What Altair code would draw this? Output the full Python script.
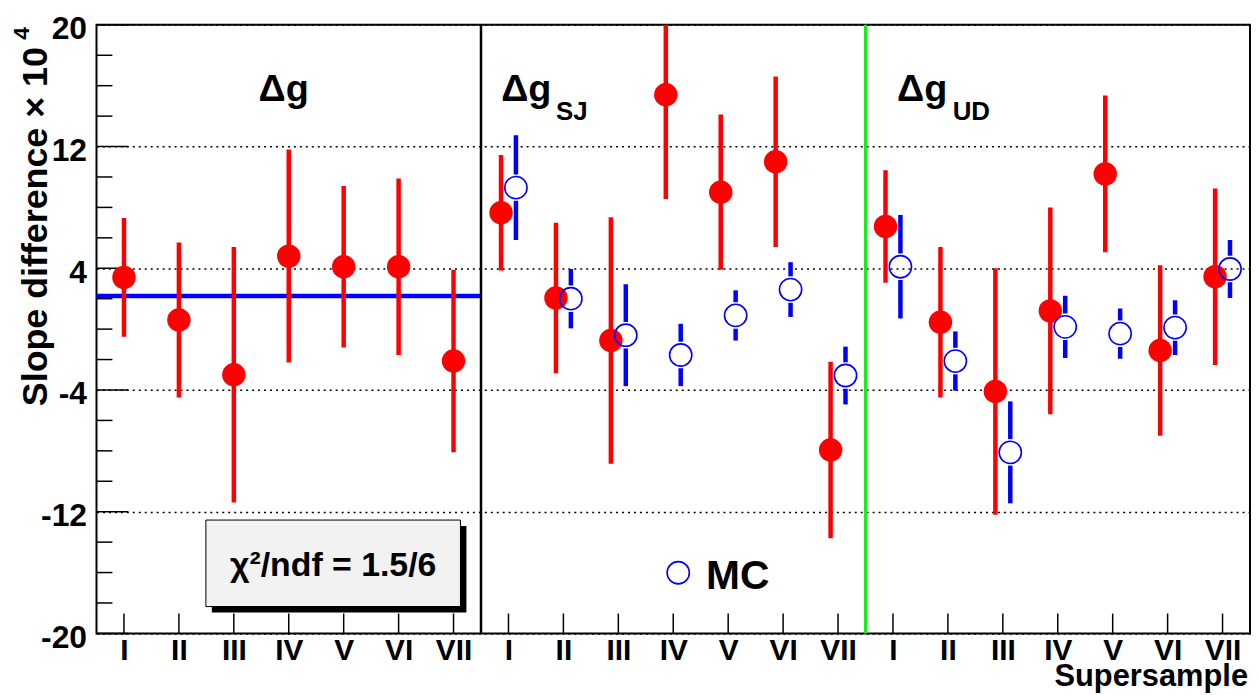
import altair as alt
import pandas as pd

# ---------------- data ----------------
roman = ["I", "II", "III", "IV", "V", "VI", "VII"]

# Delta g (data)
dg_val = [3.4, 0.6, -3.0, 4.8, 4.1, 4.1, -2.1]
dg_err = [3.9, 5.1, 8.4, 7.0, 5.3, 5.8, 6.0]

# Delta g_SJ (data and MC)
sj_val = [7.65, 2.05, -0.75, 15.4, 9.0, 11.0, -7.95]
sj_err = [3.8, 4.95, 8.1, 6.85, 5.1, 5.6, 5.8]
sj_mc_val = [9.3, 2.0, -0.4, -1.7, 0.9, 2.6, -3.05]
sj_mc_err = [3.45, 1.95, 3.35, 2.05, 1.65, 1.8, 1.9]

# Delta g_UD (data and MC)
ud_val = [6.75, 0.45, -4.1, 1.2, 10.2, -1.4, 3.45]
ud_err = [3.7, 4.95, 8.1, 6.8, 5.15, 5.6, 5.8]
ud_mc_val = [4.1, -2.1, -8.1, 0.15, -0.3, 0.1, 3.95]
ud_mc_err = [3.4, 1.95, 3.35, 2.05, 1.65, 1.8, 1.9]

fit_value = 2.17          # constant fit to Delta g
panel_edges = [7.5, 14.5]  # separators between the three panels

y_major = [-20, -12, -4, 4, 12, 20]
y_minor = [v for v in range(-18, 20, 2) if v not in y_major]

# ---------------- tables ----------------
rows = []
for p, (vals, errs) in enumerate([(dg_val, dg_err), (sj_val, sj_err), (ud_val, ud_err)]):
    for i in range(7):
        rows.append(dict(panel=p, pos=7 * p + i + 1, val=vals[i],
                         lo=vals[i] - errs[i], hi=vals[i] + errs[i]))
data = pd.DataFrame(rows)

mc_rows = []
for p, (vals, errs) in enumerate([(sj_mc_val, sj_mc_err), (ud_mc_val, ud_mc_err)], start=1):
    for i in range(7):
        mc_rows.append(dict(panel=p, pos=7 * p + i + 1, val=vals[i],
                            lo=vals[i] - errs[i], hi=vals[i] + errs[i]))
mc = pd.DataFrame(mc_rows)

positions = pd.DataFrame({"pos": list(range(1, 22))})
one = pd.DataFrame({"k": [0]})

# ---------------- style ----------------
FONT = "Liberation Sans"
W, H = 1160, 612
RED = "#ff0000"
BLUE = "#0000ff"
R = 13.3  # marker radius in px

xs = alt.Scale(domain=[0.5, 21.5], nice=False, zero=False)
ys = alt.Scale(domain=[-20, 20], nice=False, zero=False)

label_expr = "[" + ",".join(f"'{r}'" for r in roman) + "][(datum.value - 1) % 7]"

x_axis = alt.Axis(values=list(range(1, 22)), labelExpr=label_expr, ticks=False,
                  domain=False, grid=False, labelFont=FONT, labelFontWeight="bold",
                  labelFontSize=30, labelPadding=2, labelColor="black",
                  labelBaseline="top", title=None, labelFlush=False, labelOverlap=False)
y_axis = alt.Axis(values=y_major, labelExpr="'' + datum.value", ticks=False, domain=False,
                  grid=True, gridColor="black", gridDash=[2, 4], gridWidth=1.5,
                  gridOpacity=1, labelFont=FONT, labelFontWeight="bold",
                  labelFontSize=32, labelPadding=10, labelOffset=4, labelColor="black",
                  labelBaseline="middle", title=None, labelFlush=False, labelOverlap=False)


def X(field=None, datum=None):
    if datum is not None:
        return alt.X(datum=datum, type="quantitative", scale=xs, axis=x_axis)
    return alt.X(field, type="quantitative", scale=xs, axis=x_axis)


def Y(field=None, datum=None):
    if datum is not None:
        return alt.Y(datum=datum, type="quantitative", scale=ys, axis=y_axis)
    return alt.Y(field, type="quantitative", scale=ys, axis=y_axis)


# ---------------- layers ----------------
x_ticks = alt.Chart(positions).mark_rule(color="black", strokeWidth=1.5).encode(
    x=X("pos"), y=alt.value(H), y2=alt.value(H - 20))

y_major_ticks = alt.Chart(pd.DataFrame({"v": y_major})).mark_rule(color="black", strokeWidth=1.5).encode(
    y=Y("v"), x=alt.value(0), x2=alt.value(32))
y_minor_ticks = alt.Chart(pd.DataFrame({"v": y_minor})).mark_rule(color="black", strokeWidth=1.5).encode(
    y=Y("v"), x=alt.value(0), x2=alt.value(16))

sep_black = alt.Chart(one).mark_rule(color="black", strokeWidth=2.5).encode(
    x=X(datum=panel_edges[0]), y=alt.value(0), y2=alt.value(H))
sep_green = alt.Chart(one).mark_rule(color="#19ec19", strokeWidth=3).encode(
    x=X(datum=panel_edges[1]), y=alt.value(0), y2=alt.value(H))

fit_line = alt.Chart(one).mark_rule(color=BLUE, strokeWidth=4.5).encode(
    x=X(datum=0.5), x2=alt.X2(datum=7.5), y=Y(datum=fit_value))

red_p1 = alt.Chart(data).transform_filter("datum.panel == 0")
red_p23 = alt.Chart(data).transform_filter("datum.panel > 0")


def red_layers(base, dx):
    bars = base.mark_rule(color=RED, strokeWidth=4.5, clip=True, xOffset=dx).encode(
        x=X("pos"), y=Y("lo"), y2="hi:Q")
    pts = base.mark_point(shape="circle", filled=True, size=555, color=RED, opacity=1,
                          xOffset=dx).encode(x=X("pos"), y=Y("val"))
    return bars, pts


r1_bars, r1_pts = red_layers(red_p1, 0)
r2_bars, r2_pts = red_layers(red_p23, -7.5)

mc_base = alt.Chart(mc)
mc_up = mc_base.mark_rule(color=BLUE, strokeWidth=4.5, clip=True, xOffset=7.5, yOffset=-R).encode(
    x=X("pos"), y=Y("val"), y2="hi:Q")
mc_down = mc_base.mark_rule(color=BLUE, strokeWidth=4.5, clip=True, xOffset=7.5, yOffset=R).encode(
    x=X("pos"), y=Y("val"), y2="lo:Q")
mc_pts = mc_base.mark_point(shape="circle", filled=False, size=500, stroke=BLUE,
                            strokeWidth=1.6, opacity=1, xOffset=7.5).encode(
    x=X("pos"), y=Y("val"))


def text(txt, x, y, size, align="left", weight="bold", angle=0):
    return alt.Chart(pd.DataFrame({"t": [txt]})).mark_text(
        align=align, baseline="alphabetic", fontSize=size, fontWeight=weight,
        font=FONT, angle=angle, color="black").encode(
        x=alt.value(x), y=alt.value(y), text="t:N")


texts = [
    text("Δg", 163, 77, 38),
    text("Δg", 407, 77, 38),
    text("SJ", 462, 96, 26),
    text("Δg", 805, 77, 38),
    text("UD", 861, 96, 26),
    text("MC", 613, 567, 41),
    text("Supersample", 1158, 665, 31, align="right"),
    text("Slope difference × 10", -50, 203, 36, align="center", angle=270),
    text("4", -68, 15, 23, align="left", angle=270),
]

chi_shadow = alt.Chart(one).mark_rect(fill="black").encode(
    x=alt.value(116), x2=alt.value(372), y=alt.value(504), y2=alt.value(591))
chi_box = alt.Chart(one).mark_rect(fill="#f2f2f2", stroke="black", strokeWidth=1).encode(
    x=alt.value(110), x2=alt.value(366), y=alt.value(498), y2=alt.value(585))
chi_text = text("χ²/ndf = 1.5/6", 238, 554, 34, align="center")

mc_legend = alt.Chart(one).mark_point(shape="circle", filled=False, size=500, stroke=BLUE,
                                       strokeWidth=1.6, opacity=1).encode(
    x=alt.value(585), y=alt.value(551))

chart = alt.layer(
    x_ticks, y_major_ticks, y_minor_ticks,
    fit_line,
    r1_bars, r2_bars, r1_pts, r2_pts,
    mc_up, mc_down, mc_pts,
    sep_black, sep_green,
    chi_shadow, chi_box, chi_text, mc_legend,
    *texts,
).properties(
    width=W, height=H,
    autosize=alt.AutoSizeParams(type="none"),
    padding={"left": 89, "top": 15, "right": 1, "bottom": 60},
    background="white",
).configure_view(stroke="black", strokeWidth=2)

chart.save("out.html", embed_options={"renderer": "svg", "actions": False})
